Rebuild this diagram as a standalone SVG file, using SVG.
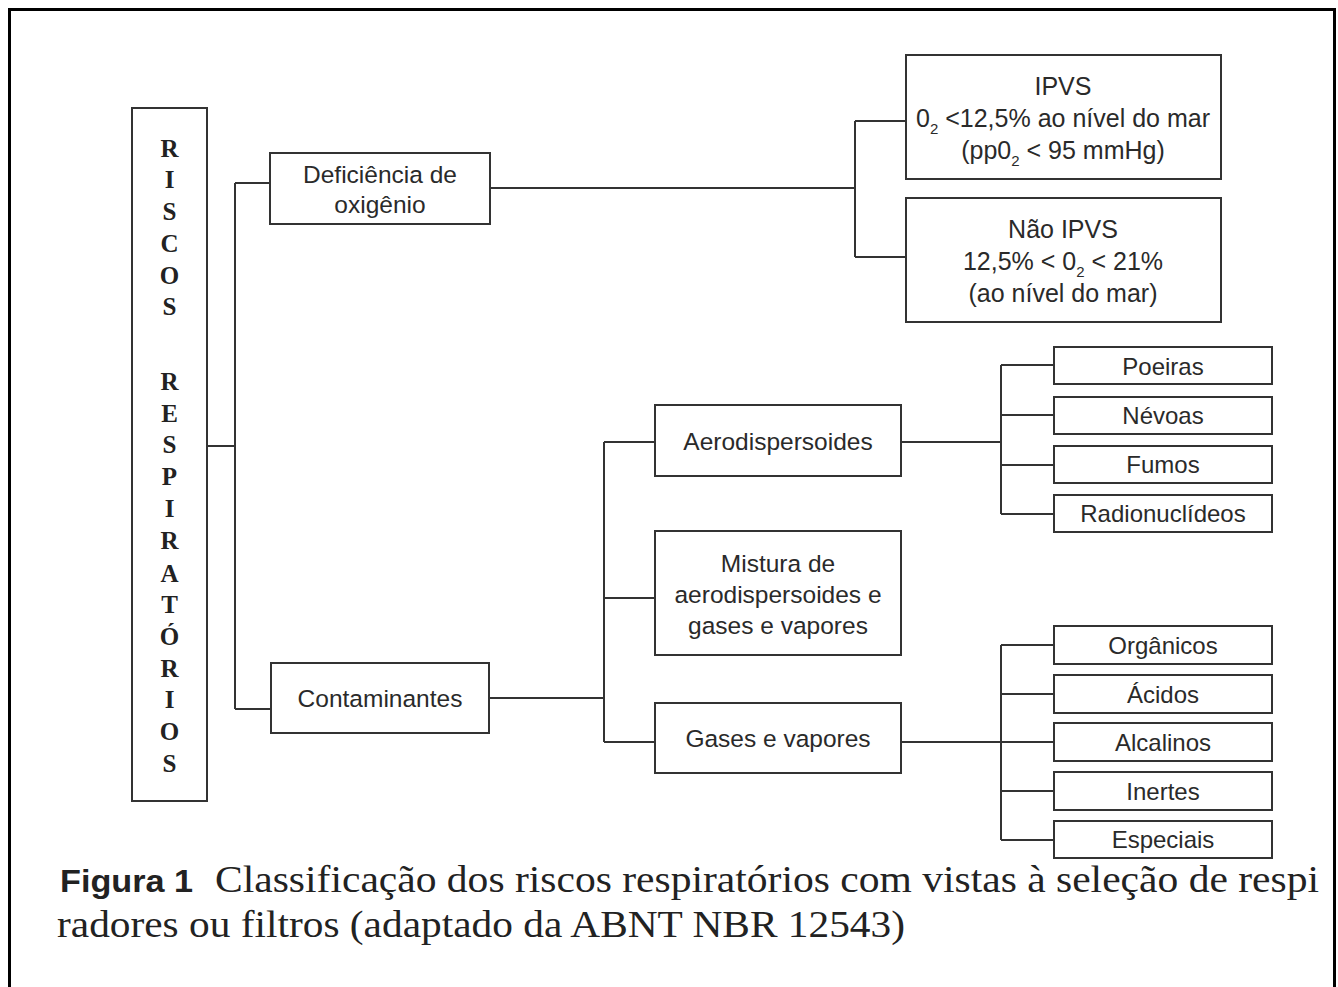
<svg xmlns="http://www.w3.org/2000/svg" width="1338" height="987" viewBox="0 0 1338 987">
<style>
.box{fill:#fff;stroke:#333;stroke-width:2}
.ln{fill:none;stroke:#333;stroke-width:2}
.t{font-family:"Liberation Sans","DejaVu Sans",sans-serif;font-size:24.5px;fill:#2a2a2a;text-anchor:middle}
.w{font-family:"Liberation Sans","DejaVu Sans",sans-serif;font-size:25px;fill:#2a2a2a;text-anchor:middle}
.s{font-family:"Liberation Sans","DejaVu Sans",sans-serif;font-size:24px;fill:#2a2a2a;text-anchor:middle}
.v{font-family:"Liberation Serif","DejaVu Serif",serif;font-size:25px;font-weight:bold;fill:#222;text-anchor:middle}
.cap{font-family:"Liberation Serif","DejaVu Serif",serif;font-size:37px;fill:#222}
.capb{font-family:"Liberation Sans","DejaVu Sans",sans-serif;font-size:32px;font-weight:bold;fill:#222}
</style>
<rect width="1338" height="987" fill="#fff"/>
<path d="M9.5,987 V9.5 H1334.5 V987" fill="none" stroke="#000" stroke-width="3"/>

<g id="connectors">
<path class="ln" d="M202,446 H235 M235,183 V709 M235,183 H270 M235,709 H271"/>
<path class="ln" d="M490,188 H855 M855,121 V257 M855,121 H906 M855,257 H906"/>
<path class="ln" d="M489,698 H604 M604,442 V742 M604,442 H655 M604,598 H655 M604,742 H655"/>
<path class="ln" d="M901,442 H1001 M1001,365 V514 M1001,365 H1054 M1001,415 H1054 M1001,465 H1054 M1001,514 H1054"/>
<path class="ln" d="M901,742 H1054 M1001,645 V840 M1001,645 H1054 M1001,694 H1054 M1001,791 H1054 M1001,840 H1054"/>
</g>

<g id="riscos">
<rect class="box" x="132" y="108" width="75" height="693"/>
<text class="v" x="169.5" y="157">R</text>
<text class="v" x="169.5" y="188">I</text>
<text class="v" x="169.5" y="220">S</text>
<text class="v" x="169.5" y="252">C</text>
<text class="v" x="169.5" y="284">O</text>
<text class="v" x="169.5" y="315">S</text>
<text class="v" x="169.5" y="390">R</text>
<text class="v" x="169.5" y="422">E</text>
<text class="v" x="169.5" y="453">S</text>
<text class="v" x="169.5" y="485">P</text>
<text class="v" x="169.5" y="517">I</text>
<text class="v" x="169.5" y="549">R</text>
<text class="v" x="169.5" y="582">A</text>
<text class="v" x="169.5" y="613">T</text>
<text class="v" x="169.5" y="645">Ó</text>
<text class="v" x="169.5" y="677">R</text>
<text class="v" x="169.5" y="708">I</text>
<text class="v" x="169.5" y="740">O</text>
<text class="v" x="169.5" y="772">S</text>
</g>

<g id="deficiencia">
<rect class="box" x="270" y="153" width="220" height="71"/>
<text class="t" x="380" y="183">Deficiência de</text>
<text class="t" x="380" y="213">oxigênio</text>
</g>

<g id="ipvs">
<rect class="box" x="906" y="55" width="315" height="124"/>
<text class="w" x="1063" y="95">IPVS</text>
<text class="w" x="1063" y="127">0<tspan font-size="15" dy="7">2</tspan><tspan dy="-7"> &lt;12,5% ao nível do mar</tspan></text>
<text class="w" x="1063" y="159">(pp0<tspan font-size="15" dy="7">2</tspan><tspan dy="-7"> &lt; 95 mmHg)</tspan></text>
</g>

<g id="nao-ipvs">
<rect class="box" x="906" y="198" width="315" height="124"/>
<text class="w" x="1063" y="238">Não IPVS</text>
<text class="w" x="1063" y="270">12,5% &lt; 0<tspan font-size="15" dy="7">2</tspan><tspan dy="-7"> &lt; 21%</tspan></text>
<text class="w" x="1063" y="302">(ao nível do mar)</text>
</g>

<g id="contaminantes">
<rect class="box" x="271" y="663" width="218" height="70"/>
<text class="t" x="380" y="707">Contaminantes</text>
</g>

<g id="aerodispersoides">
<rect class="box" x="655" y="405" width="246" height="71"/>
<text class="t" x="778" y="450">Aerodispersoides</text>
</g>

<g id="mistura">
<rect class="box" x="655" y="531" width="246" height="124"/>
<text class="t" x="778" y="572">Mistura de</text>
<text class="t" x="778" y="603">aerodispersoides e</text>
<text class="t" x="778" y="634">gases e vapores</text>
</g>

<g id="gases">
<rect class="box" x="655" y="703" width="246" height="70"/>
<text class="t" x="778" y="747">Gases e vapores</text>
</g>

<g id="poeiras"><rect class="box" x="1054" y="347" width="218" height="37"/><text class="s" x="1163" y="375">Poeiras</text></g>
<g id="nevoas"><rect class="box" x="1054" y="397" width="218" height="37"/><text class="s" x="1163" y="424">Névoas</text></g>
<g id="fumos"><rect class="box" x="1054" y="446" width="218" height="37"/><text class="s" x="1163" y="473">Fumos</text></g>
<g id="radionuclideos"><rect class="box" x="1054" y="495" width="218" height="37"/><text class="s" x="1163" y="522">Radionuclídeos</text></g>

<g id="organicos"><rect class="box" x="1054" y="626" width="218" height="38"/><text class="s" x="1163" y="654">Orgânicos</text></g>
<g id="acidos"><rect class="box" x="1054" y="675" width="218" height="38"/><text class="s" x="1163" y="703">Ácidos</text></g>
<g id="alcalinos"><rect class="box" x="1054" y="723" width="218" height="38"/><text class="s" x="1163" y="751">Alcalinos</text></g>
<g id="inertes"><rect class="box" x="1054" y="772" width="218" height="38"/><text class="s" x="1163" y="800">Inertes</text></g>
<g id="especiais"><rect class="box" x="1054" y="821" width="218" height="37"/><text class="s" x="1163" y="848">Especiais</text></g>

<g id="caption">
<text class="capb" x="60" y="892" textLength="133" lengthAdjust="spacingAndGlyphs">Figura 1</text>
<text class="cap" x="215" y="892" textLength="1104" lengthAdjust="spacingAndGlyphs">Classificação dos riscos respiratórios com vistas à seleção de respi</text>
<text class="cap" x="57" y="937" textLength="848" lengthAdjust="spacingAndGlyphs">radores ou filtros (adaptado da ABNT NBR 12543)</text>
</g>
</svg>
